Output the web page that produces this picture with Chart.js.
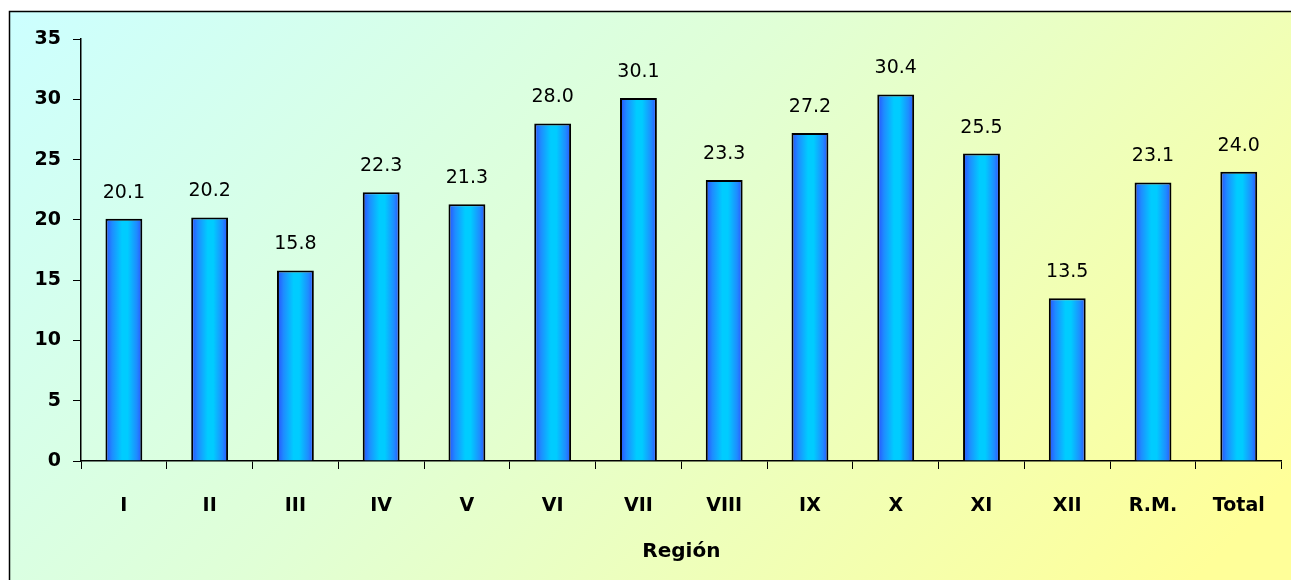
<!DOCTYPE html>
<html>
<head>
<meta charset="utf-8">
<script src="https://cdn.jsdelivr.net/npm/chart.js@4/dist/chart.umd.min.js"></script>
<style>
  html, body { margin: 0; padding: 0; background: #ffffff; }
  #wrap { width: 1291px; height: 580px; position: relative; }
</style>
</head>
<body>
<div id="wrap"><canvas id="c" width="1291" height="580"></canvas></div>
<script>
// Regions and their values
const regions = ['I', 'II', 'III', 'IV', 'V', 'VI', 'VII', 'VIII', 'IX', 'X', 'XI', 'XII', 'R.M.', 'Total'];
const values = [20.1, 20.2, 15.8, 22.3, 21.3, 28.0, 30.1, 23.3, 27.2, 30.4, 25.5, 13.5, 23.1, 24.0];
const yTicks = [0, 5, 10, 15, 20, 25, 30, 35];
const axisTitle = 'Región';

const FONT = "'DejaVu Sans', 'Liberation Sans', sans-serif";
const BAR_PCT = 0.43;

// Panel background: diagonal cyan-to-yellow fill with a black frame
const panelBackground = {
  id: 'panelBackground',
  beforeDraw(chart) {
    const ctx = chart.ctx;
    const w = chart.width, h = chart.height;
    ctx.save();
    ctx.fillStyle = '#ffffff';
    ctx.fillRect(0, 0, w, h);
    const g = ctx.createLinearGradient(9, 11, w * 0.7, h + 300);
    g.addColorStop(0, '#ccffff');
    g.addColorStop(0.45, '#e0ffd6');
    g.addColorStop(1, '#ffff99');
    ctx.fillStyle = g;
    ctx.fillRect(9, 11, w - 9, h - 11);
    ctx.strokeStyle = '#000000';
    ctx.lineWidth = 1.5;
    ctx.beginPath();
    ctx.moveTo(9.5, h + 2);
    ctx.lineTo(9.5, 11.5);
    ctx.lineTo(w + 2, 11.5);
    ctx.stroke();
    ctx.restore();
  }
};

// Value labels above each bar
const valueLabels = {
  id: 'valueLabels',
  afterDatasetsDraw(chart) {
    const ctx = chart.ctx;
    const meta = chart.getDatasetMeta(0);
    ctx.save();
    ctx.font = '19px ' + FONT;
    ctx.fillStyle = '#000000';
    ctx.textAlign = 'center';
    ctx.textBaseline = 'alphabetic';
    meta.data.forEach((bar, i) => {
      ctx.fillText(values[i].toFixed(1), bar.x, bar.y - 21);
    });
    ctx.restore();
  }
};

// Horizontal blue-cyan-blue shading across each bar
function barFill(context) {
  const chart = context.chart;
  const xs = chart.scales.x;
  if (!xs || context.dataIndex === undefined) return '#00ccff';
  const cx = xs.getPixelForValue(context.dataIndex);
  const half = (xs.width / regions.length) * BAR_PCT / 2;
  if (!isFinite(cx) || !isFinite(half) || half <= 0) return '#00ccff';
  const g = chart.ctx.createLinearGradient(cx - half, 0, cx + half, 0);
  g.addColorStop(0, '#2a4dff');
  g.addColorStop(0.18, '#1e8cff');
  g.addColorStop(0.45, '#00ccff');
  g.addColorStop(0.6, '#00ccff');
  g.addColorStop(0.85, '#1e8cff');
  g.addColorStop(1, '#2f50ff');
  return g;
}

new Chart(document.getElementById('c'), {
  type: 'bar',
  data: {
    labels: regions,
    datasets: [{
      data: values,
      backgroundColor: barFill,
      borderColor: '#000000',
      borderWidth: 2,
      borderSkipped: 'bottom',
      barPercentage: BAR_PCT,
      categoryPercentage: 1.0
    }]
  },
  options: {
    responsive: false,
    animation: false,
    devicePixelRatio: 1,
    layout: { padding: { left: 0, top: 39, right: 8, bottom: 0 } },
    plugins: {
      legend: { display: false },
      tooltip: { enabled: false },
      title: { display: false }
    },
    scales: {
      x: {
        offset: true,
        afterFit(scale) { scale.height = 119; },
        grid: {
          offset: true,
          drawOnChartArea: false,
          drawTicks: true,
          tickLength: 8,
          color: '#000000',
          lineWidth: 1
        },
        border: { display: true, color: '#000000', width: 1.5 },
        ticks: {
          color: '#000000',
          font: { family: FONT, size: 19, weight: 'bold' },
          padding: 26,
          maxRotation: 0,
          autoSkip: false
        },
        title: {
          display: true,
          text: axisTitle,
          color: '#000000',
          font: { family: FONT, size: 20, weight: 'bold' },
          padding: { top: 0, bottom: 16 }
        }
      },
      y: {
        min: yTicks[0],
        max: yTicks[yTicks.length - 1],
        afterFit(scale) { scale.width = 81; },
        afterBuildTicks(scale) { scale.ticks = yTicks.map(v => ({ value: v })); },
        grid: {
          drawOnChartArea: false,
          drawTicks: true,
          tickLength: 8,
          color: '#000000',
          lineWidth: 1
        },
        border: { display: true, color: '#000000', width: 1.5 },
        ticks: {
          color: '#000000',
          font: { family: FONT, size: 19, weight: 'bold' },
          padding: 12
        }
      }
    }
  },
  plugins: [panelBackground, valueLabels]
});
</script>
</body>
</html>
